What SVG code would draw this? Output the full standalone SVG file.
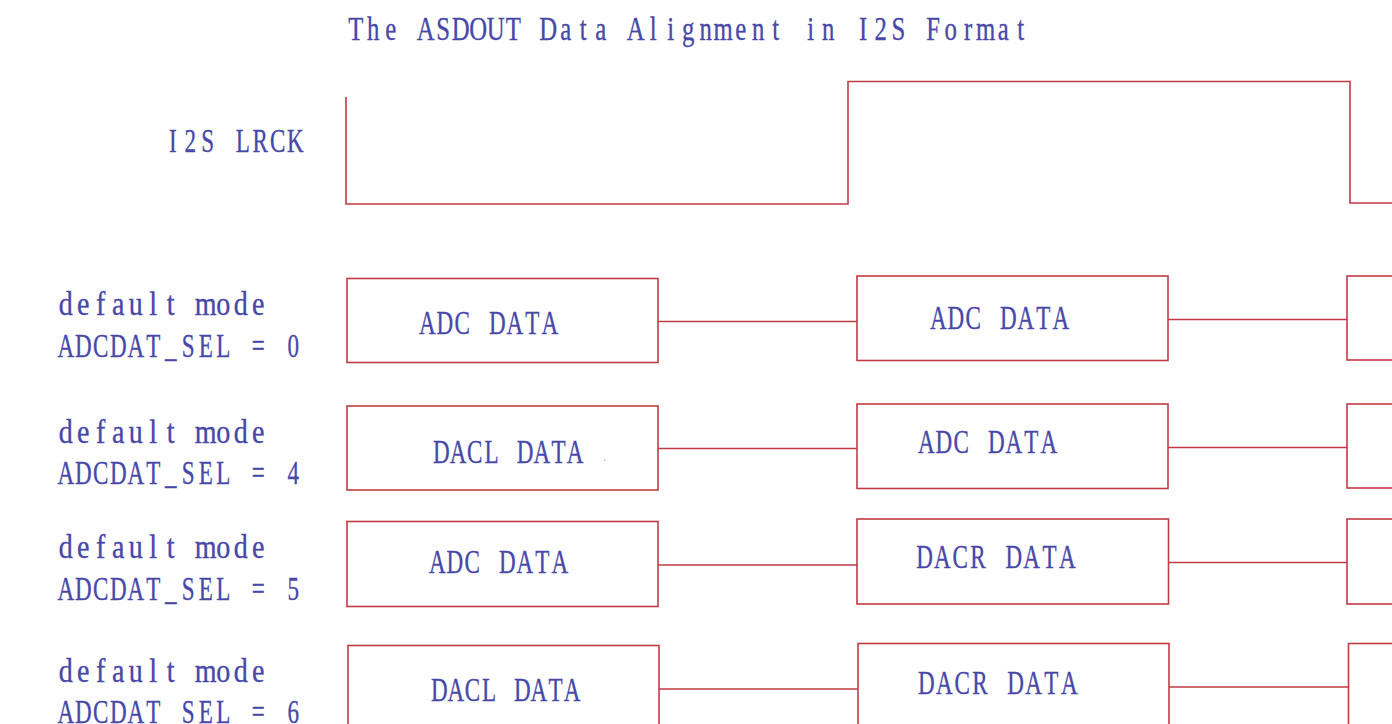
<svg xmlns="http://www.w3.org/2000/svg" width="1392" height="724" viewBox="0 0 1392 724">
<style>
.t{font-family:"Liberation Serif","Times New Roman",serif;font-size:33px;fill:#4848a8;stroke:#4848a8;stroke-width:0.35;text-anchor:middle;}
.w{fill:none;stroke:#c23a44;stroke-width:1.6;}
.b{fill:#ffffff;stroke:#c23a44;stroke-width:1.6;}
</style>
<rect width="1392" height="724" fill="#ffffff"/>
<g id="title"><text class="t" transform="scale(0.75,1)" y="40" x="474.3 497.7 521 544.3 567.7 591 614.3 637.7 661 684.3 707.7 731 754.3 777.7 801 824.3 847.7 871 894.3 917.7 941 964.3 987.7 1011 1034.3 1057.7 1081 1104.3 1127.7 1151 1174.3 1197.7 1221 1244.3 1267.7 1291 1314.3 1337.7 1361">The ASDOUT Data Alignment in I2S Format</text></g>
<g id="lrck-label"><text class="t" transform="scale(0.7,1)" y="152" x="246.8 271.8 296.8 321.8 346.8 371.8 396.8 421.8">I2S LRCK</text></g>
<g id="lrck-wave"><polyline class="w" points="346,97 346,204 848,204 848,81.5 1350,81.5 1350,203 1392,203"/></g>

<g id="label-0"><text class="t" transform="scale(0.85,1)" y="315" x="77.4 97.9 118.5 139.1 159.7 180.3 200.9 221.5 242.1 262.6 283.2 303.8">default mode</text><text class="t" transform="scale(0.7,1)" y="357" x="93.9 118.9 143.9 168.9 193.9 218.9 243.9 268.9 293.9 318.9 343.9 368.9 393.9 418.9">ADCDAT_SEL = 0</text></g>
<g id="label-4"><text class="t" transform="scale(0.85,1)" y="443" x="77.4 97.9 118.5 139.1 159.7 180.3 200.9 221.5 242.1 262.6 283.2 303.8">default mode</text><text class="t" transform="scale(0.7,1)" y="484" x="93.9 118.9 143.9 168.9 193.9 218.9 243.9 268.9 293.9 318.9 343.9 368.9 393.9 418.9">ADCDAT_SEL = 4</text></g>
<g id="label-5"><text class="t" transform="scale(0.85,1)" y="558" x="77.4 97.9 118.5 139.1 159.7 180.3 200.9 221.5 242.1 262.6 283.2 303.8">default mode</text><text class="t" transform="scale(0.7,1)" y="600" x="93.9 118.9 143.9 168.9 193.9 218.9 243.9 268.9 293.9 318.9 343.9 368.9 393.9 418.9">ADCDAT_SEL = 5</text></g>
<g id="label-6"><text class="t" transform="scale(0.85,1)" y="682" x="77.4 97.9 118.5 139.1 159.7 180.3 200.9 221.5 242.1 262.6 283.2 303.8">default mode</text><text class="t" transform="scale(0.7,1)" y="723" x="93.9 118.9 143.9 168.9 193.9 218.9 243.9 268.9 293.9 318.9 343.9 368.9 393.9 418.9">ADCDAT_SEL = 6</text></g>

<g id="connectors">
<line class="w" x1="658" y1="321.5" x2="857" y2="321.5"/>
<line class="w" x1="1168" y1="319.5" x2="1347" y2="319.5"/>
<line class="w" x1="658" y1="448.5" x2="857" y2="448.5"/>
<line class="w" x1="1168" y1="447.5" x2="1347" y2="447.5"/>
<line class="w" x1="658" y1="565" x2="857" y2="565"/>
<line class="w" x1="1168" y1="562.5" x2="1347" y2="562.5"/>
<line class="w" x1="659" y1="689" x2="858" y2="689"/>
<line class="w" x1="1169" y1="687" x2="1348" y2="687"/>
</g>

<g id="r1-b1"><rect class="b" x="347" y="278.5" width="311" height="84"/><text class="t" transform="scale(0.7,1)" y="334" x="610.4 635.4 660.4 685.4 710.4 735.4 760.4 785.4">ADC DATA</text></g>
<g id="r1-b2"><rect class="b" x="857" y="276" width="311" height="84.5"/><text class="t" transform="scale(0.7,1)" y="329" x="1340.4 1365.4 1390.4 1415.4 1440.4 1465.4 1490.4 1515.4">ADC DATA</text></g>
<g id="r1-b3"><rect class="b" x="1347" y="276" width="60" height="84"/></g>

<g id="r2-b1"><rect class="b" x="347" y="406" width="311" height="84"/><text class="t" transform="scale(0.7,1)" y="463" x="630.5 654.4 678.3 702.2 726.1 750 773.9 797.8 821.7">DACL DATA</text><text x="603" y="461" style="font-family:'Liberation Serif',serif;font-size:12px;fill:#9a9ac8">.</text></g>
<g id="r2-b2"><rect class="b" x="857" y="404" width="311" height="84.5"/><text class="t" transform="scale(0.7,1)" y="453" x="1323.2 1348.2 1373.2 1398.2 1423.2 1448.2 1473.2 1498.2">ADC DATA</text></g>
<g id="r2-b3"><rect class="b" x="1347" y="404" width="60" height="84"/></g>

<g id="r3-b1"><rect class="b" x="347" y="521.5" width="311" height="85"/><text class="t" transform="scale(0.7,1)" y="573" x="624.6 649.6 674.6 699.6 724.6 749.6 774.6 799.6">ADC DATA</text></g>
<g id="r3-b2"><rect class="b" x="857" y="519" width="311.5" height="85"/><text class="t" transform="scale(0.7,1)" y="568" x="1320.7 1346.2 1371.7 1397.2 1422.7 1448.2 1473.7 1499.2 1524.7">DACR DATA</text></g>
<g id="r3-b3"><rect class="b" x="1347" y="519" width="60" height="85"/></g>

<g id="r4-b1"><rect class="b" x="348" y="645.5" width="311" height="90"/><text class="t" transform="scale(0.7,1)" y="701" x="627.6 651.3 675 698.7 722.4 746.1 769.8 793.5 817.2">DACL DATA</text></g>
<g id="r4-b2"><rect class="b" x="858" y="643.5" width="311" height="90"/><text class="t" transform="scale(0.7,1)" y="694" x="1323.5 1349 1374.5 1400 1425.5 1451 1476.5 1502 1527.5">DACR DATA</text></g>
<g id="r4-b3"><rect class="b" x="1348.5" y="643.5" width="60" height="90"/></g>
</svg>
